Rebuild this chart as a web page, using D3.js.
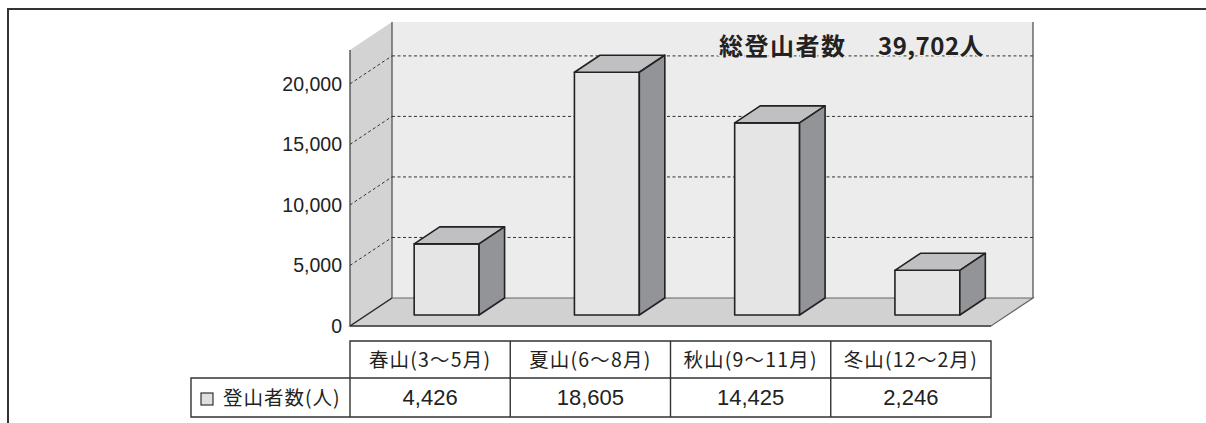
<!DOCTYPE html>
<html>
<head>
<meta charset="utf-8">
<script src="https://cdn.jsdelivr.net/npm/d3@7"></script>
<style>
  body { margin: 0; background: #fff; }
  svg { display: block; }
</style>
</head>
<body>
<div class="figure"></div>
<script>
const categories = ["春山(3〜5月)", "夏山(6〜8月)", "秋山(9〜11月)", "冬山(12〜2月)"]
const climbers = [4426, 18605, 14425, 2246]
const yTicks = [0, 5000, 10000, 15000, 20000]
const seriesName = "登山者数(人)"
const totalLabel = "総登山者数"

const width = 1206
const height = 423

// 3D box: front plane x 350..991, pushed back by (depthX, depthY)
const depthX = 42
const depthY = -28
const barFront = 11 / 28   // columns start this far into the box
const barLift = 17.5       // columns stand on a slab below the axis zero

const x = d3.scaleBand(categories, [350, 991]).paddingInner(0.595).paddingOuter(0.2975)
const step = x.step()
const y = d3.scaleLinear([0, 22800], [326, 50])
const fmt = d3.format(",")

const svg = d3.select(".figure").append("svg")
    .attr("width", width)
    .attr("height", height)
    .attr("viewBox", [0, 0, width, height])

const jp = "'Noto Sans CJK JP', sans-serif"
const num = "'Liberation Sans', Arial, sans-serif"

// frame
svg.append("path")
    .attr("d", `M8,423V9H${width}`)
    .attr("fill", "none")
    .attr("stroke", "#333")
    .attr("stroke-width", 2)

const x0 = x.range()[0], x1 = x.range()[1]
const yTop = y.range()[1], y0 = y(0)

// side wall
svg.append("path")
    .attr("d", `M${x0},${y0}V${yTop}L${x0 + depthX},${yTop + depthY}V${y0 + depthY}Z`)
    .attr("fill", "#d3d3d4")
svg.append("line")
    .attr("x1", x0).attr("x2", x0).attr("y1", yTop).attr("y2", y0)
    .attr("stroke", "#444").attr("stroke-width", 1.3)

// back wall
svg.append("rect")
    .attr("x", x0 + depthX).attr("y", yTop + depthY)
    .attr("width", x1 - x0).attr("height", y0 - yTop)
    .attr("fill", "#ececec")
svg.append("g")
    .attr("stroke", "#555").attr("stroke-width", 1.3)
    .selectAll("line")
    .data([x0 + depthX, x1 + depthX])
    .join("line")
    .attr("x1", d => d).attr("x2", d => d)
    .attr("y1", yTop + depthY).attr("y2", y0 + depthY)

// floor
svg.append("path")
    .attr("d", `M${x0},${y0}L${x0 + depthX},${y0 + depthY}H${x1 + depthX}L${x1},${y0}Z`)
    .attr("fill", "#d1d1d2")
    .attr("stroke", "#666")
    .attr("stroke-width", 1.2)
svg.append("line")
    .attr("x1", x0).attr("x2", x1).attr("y1", y0).attr("y2", y0)
    .attr("stroke", "#444").attr("stroke-width", 1.3)
svg.append("line")
    .attr("x1", x0).attr("x2", x0 + depthX).attr("y1", y0).attr("y2", y0 + depthY)
    .attr("stroke", "#333").attr("stroke-width", 1.3)

// gridlines
const grid = svg.append("g")
    .attr("fill", "none")
    .attr("stroke", "#333")
    .attr("stroke-width", 1)
    .attr("stroke-dasharray", "3,2.5")
grid.selectAll(".side")
    .data(yTicks.filter(d => d > 0))
    .join("path")
    .attr("class", "side")
    .attr("d", d => `M${x0},${y(d)}L${x0 + depthX},${y(d) + depthY}`)
grid.selectAll(".back")
    .data(yTicks.filter(d => d > 0))
    .join("path")
    .attr("class", "back")
    .attr("d", d => `M${x0 + depthX},${y(d) + depthY}H${x1 + depthX}`)

// y labels
svg.append("g")
    .selectAll("text")
    .data(yTicks)
    .join("text")
    .attr("x", x0 - 8)
    .attr("y", d => y(d))
    .attr("dy", "0.36em")
    .attr("text-anchor", "end")
    .attr("font-family", num)
    .attr("font-size", 19.5)
    .attr("fill", "#222")
    .text(d => fmt(d))

// columns
const fx = barFront * depthX, fy = barFront * depthY
const bx = (1 - barFront) * depthX, by = (1 - barFront) * depthY
const bw = x.bandwidth()
const bars = svg.append("g")
    .attr("stroke", "#222")
    .attr("stroke-width", 1.6)
    .attr("stroke-linejoin", "round")
    .selectAll("g")
    .data(categories.map((c, i) => ({cat: c, value: climbers[i]})))
    .join("g")

const barLeft = d => x(d.cat) + fx
const barTop = d => y(d.value) + fy - barLift
const barBase = y(0) + fy

bars.append("rect")
    .attr("x", barLeft)
    .attr("y", barTop)
    .attr("width", bw)
    .attr("height", d => barBase - barTop(d))
    .attr("fill", "#e5e5e6")
bars.append("path")
    .attr("fill", "#c0c0c2")
    .attr("d", d => `M${barLeft(d)},${barTop(d)}h${bw}l${bx},${by}h${-bw}Z`)
bars.append("path")
    .attr("fill", "#939497")
    .attr("d", d => `M${barLeft(d) + bw},${barTop(d)}l${bx},${by}V${barBase + by}l${-bx},${-by}Z`)

// total label on the back wall
const titleY = y(20000) + depthY - 1
const title = svg.append("g")
    .attr("font-family", jp)
    .attr("font-weight", 700)
    .attr("font-size", 24)
    .attr("fill", "#222")
    .attr("stroke", "#ececec")
    .attr("stroke-width", 3)
    .attr("paint-order", "stroke")
title.append("text")
    .attr("x", 719)
    .attr("y", titleY)
    .attr("letter-spacing", 1.5)
    .text(totalLabel)
title.append("text")
    .attr("x", 878)
    .attr("y", titleY)
    .attr("letter-spacing", 0.5)
    .text(fmt(d3.sum(climbers)) + "人")

// data table
const rowTop = 341, rowMid = 378, rowBottom = 417
const table = svg.append("g")
const lines = table.append("g")
    .attr("stroke", "#333")
    .attr("stroke-width", 1.4)
    .attr("fill", "none")
lines.append("path")
    .attr("d", `M${x0},${rowBottom}V${rowTop}H${x1}V${rowBottom}H191V${rowMid}H${x1}`)
lines.selectAll(".col")
    .data(categories.slice(1))
    .join("line")
    .attr("class", "col")
    .attr("x1", d => x(d) - step * 0.2975)
    .attr("x2", d => x(d) - step * 0.2975)
    .attr("y1", rowTop)
    .attr("y2", rowBottom)

table.selectAll(".head")
    .data(categories)
    .join("text")
    .attr("class", "head")
    .attr("x", d => x(d) + bw / 2)
    .attr("y", (rowTop + rowMid) / 2)
    .attr("dy", "0.36em")
    .attr("text-anchor", "middle")
    .attr("font-family", jp)
    .attr("font-size", 19.5)
    .attr("letter-spacing", 1.2)
    .attr("fill", "#222")
    .text(d => d)

table.selectAll(".val")
    .data(climbers)
    .join("text")
    .attr("class", "val")
    .attr("x", (d, i) => x(categories[i]) + bw / 2)
    .attr("y", (rowMid + rowBottom) / 2)
    .attr("dy", "0.36em")
    .attr("text-anchor", "middle")
    .attr("font-family", num)
    .attr("font-size", 22)
    .attr("fill", "#222")
    .text(d => fmt(d))

table.append("rect")
    .attr("x", 201).attr("y", 393)
    .attr("width", 12).attr("height", 12)
    .attr("fill", "#e0e0e0")
    .attr("stroke", "#333")
    .attr("stroke-width", 1.2)
table.append("text")
    .attr("x", 223)
    .attr("y", (rowMid + rowBottom) / 2)
    .attr("dy", "0.36em")
    .attr("font-family", jp)
    .attr("font-size", 19.5)
    .attr("letter-spacing", 1)
    .attr("fill", "#222")
    .text(seriesName)
</script>
</body>
</html>
